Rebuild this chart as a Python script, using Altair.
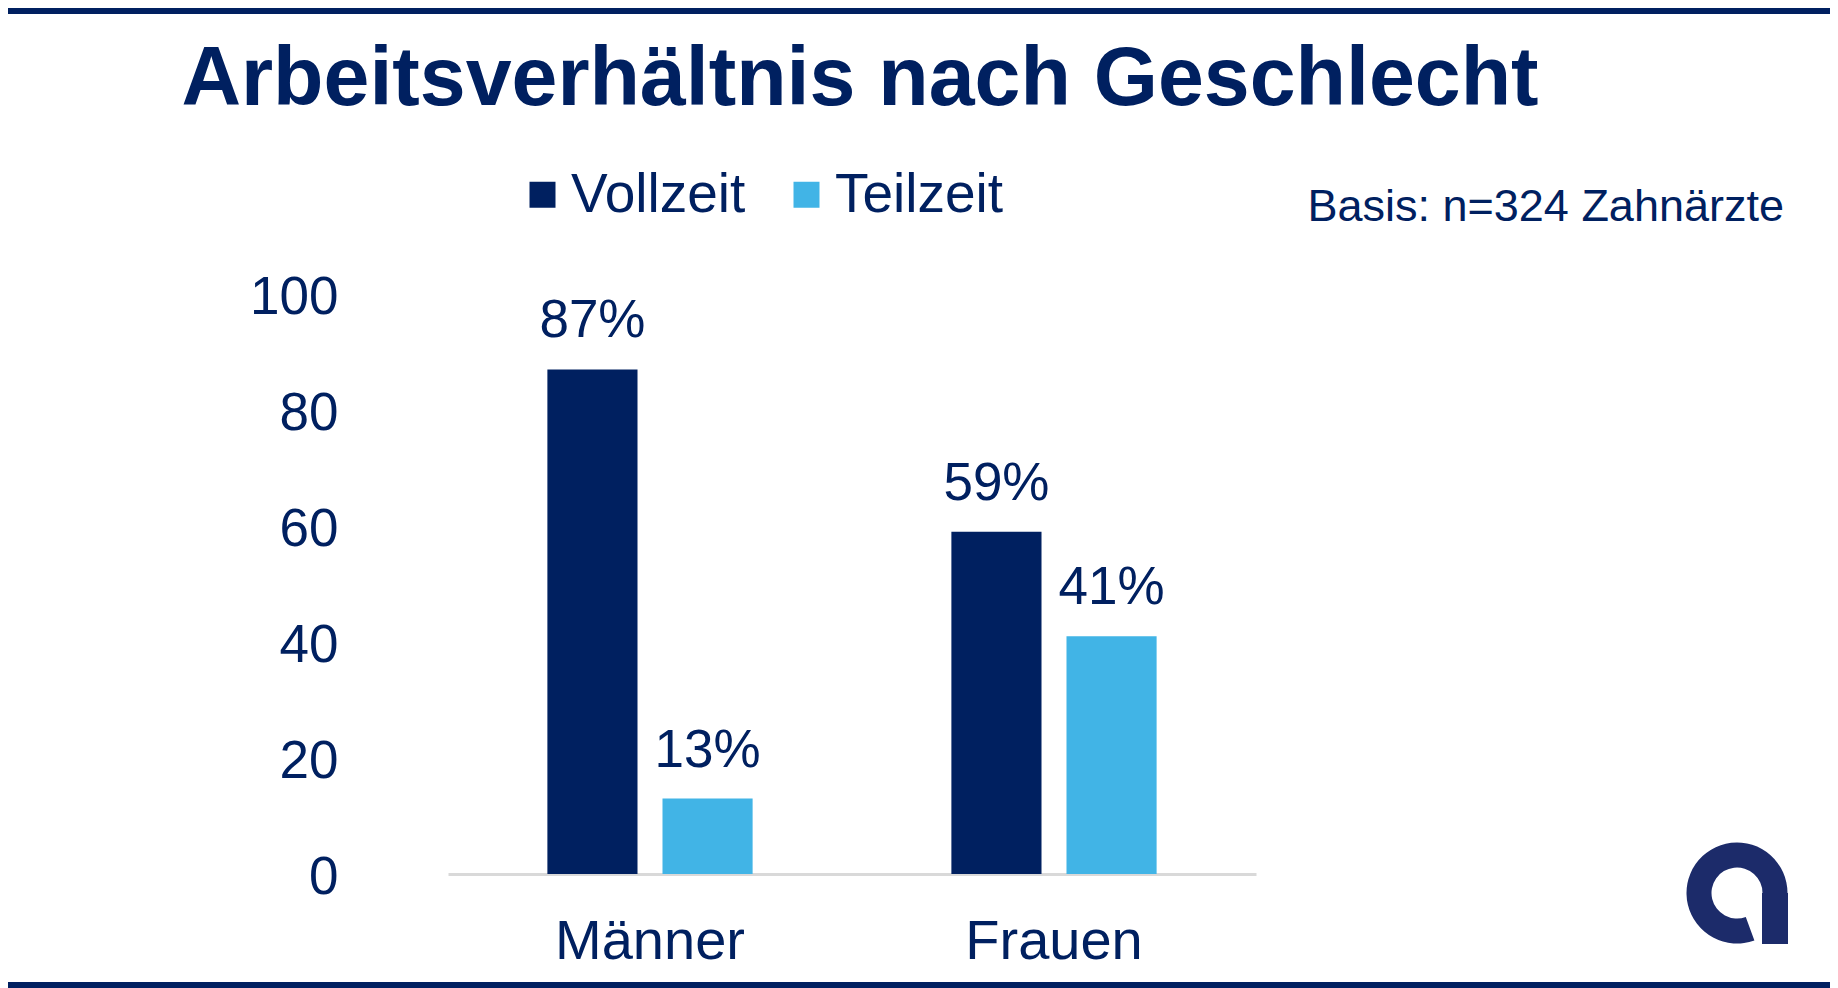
import altair as alt
import pandas as pd

# ---- data ----
groups = ["Männer", "Frauen"]
series = ["Vollzeit", "Teilzeit"]
vollzeit = [87, 59]
teilzeit = [13, 41]
y_ticks = [0, 20, 40, 60, 80, 100]
title_text = "Arbeitsverhältnis nach Geschlecht"
note_text = "Basis: n=324 Zahnärzte"

DARK = "#002060"
LIGHT = "#41B4E6"
TEXT = "#002060"
LOGO = "#1C2B6A"
FONT = "Liberation Sans"

rows = []
for g, v, t in zip(groups, vollzeit, teilzeit):
    rows.append({"Gruppe": g, "Art": "Vollzeit", "Wert": v, "Label": f"{v}%"})
    rows.append({"Gruppe": g, "Art": "Teilzeit", "Wert": t, "Label": f"{t}%"})
df = pd.DataFrame(rows)

W, H = 808, 580
PAD = {"left": 440, "top": 286, "right": 574, "bottom": 114}

x_enc = alt.X(
    "Gruppe:N", sort=groups,
    scale=alt.Scale(paddingInner=0.492, paddingOuter=0.246),
    axis=alt.Axis(title=None, labelAngle=0, labelFontSize=56, labelColor=TEXT,
                  labelFont=FONT, ticks=False, tickSize=0, labelPadding=40,
                  labelLimit=600, domainColor="#D9D9D9", domainWidth=3),
)
xo_enc = alt.XOffset("Art:N", sort=series,
                     scale=alt.Scale(paddingInner=0.217, paddingOuter=0))
y_enc = alt.Y(
    "Wert:Q", scale=alt.Scale(domain=[0, 100]),
    axis=alt.Axis(title=None, values=y_ticks, grid=False, domain=False,
                  ticks=False, tickSize=0, labelPadding=110, labelOffset=3,
                  labelFontSize=53, labelColor=TEXT, labelFont=FONT),
)

bars = alt.Chart(df).mark_bar().encode(
    x=x_enc, xOffset=xo_enc, y=y_enc,
    color=alt.Color(
        "Art:N", sort=series,
        scale=alt.Scale(domain=series, range=[DARK, LIGHT]),
        legend=alt.Legend(
            title=None, orient="none", legendX=67, legendY=-127,
            direction="horizontal", symbolType="square", symbolSize=676,
            symbolStrokeWidth=0, symbolOpacity=1, labelOffset=1,
            columnPadding=33, labelFontSize=55, labelColor=TEXT,
            labelFont=FONT, labelLimit=600, padding=0,
        ),
    ),
)

labels = alt.Chart(df).mark_text(
    dy=-32, baseline="alphabetic", align="center", fontSize=53,
    color=TEXT, font=FONT,
).encode(x=x_enc, xOffset=xo_enc, y=y_enc, text="Label:N")

one = pd.DataFrame({"a": [0]})

title = alt.Chart(one).mark_text(
    text=title_text, fontSize=82.5, fontWeight="bold", color=TEXT, font=FONT,
    align="center", baseline="alphabetic",
).encode(x=alt.value(412), y=alt.value(-189))

note = alt.Chart(one).mark_text(
    text=note_text, fontSize=45, color=TEXT, font=FONT,
    align="right", baseline="alphabetic",
).encode(x=alt.value(1336), y=alt.value(-73))

top_line = alt.Chart(one).mark_rect(color=DARK).encode(
    x=alt.value(-440), x2=alt.value(1382), y=alt.value(-286), y2=alt.value(-280))
bottom_line = alt.Chart(one).mark_rect(color=DARK).encode(
    x=alt.value(-440), x2=alt.value(1382), y=alt.value(688), y2=alt.value(694))

logo_ring = alt.Chart(one).mark_arc(
    radius=50.5, radius2=25.5, theta=2.79, theta2=7.854, color=LOGO,
).encode(x=alt.value(1289), y=alt.value(599))
logo_stem = alt.Chart(one).mark_rect(color=LOGO).encode(
    x=alt.value(1314), x2=alt.value(1340), y=alt.value(599), y2=alt.value(650))

chart = alt.layer(
    bars, labels, title, note, top_line, bottom_line, logo_ring, logo_stem
).properties(
    width=W, height=H, padding=PAD,
    autosize=alt.AutoSizeParams(type="none"),
    background="white",
).configure(font=FONT, view=alt.ViewConfig(stroke=None))

chart.save("out.html", embed_options={"renderer": "svg", "actions": False})
